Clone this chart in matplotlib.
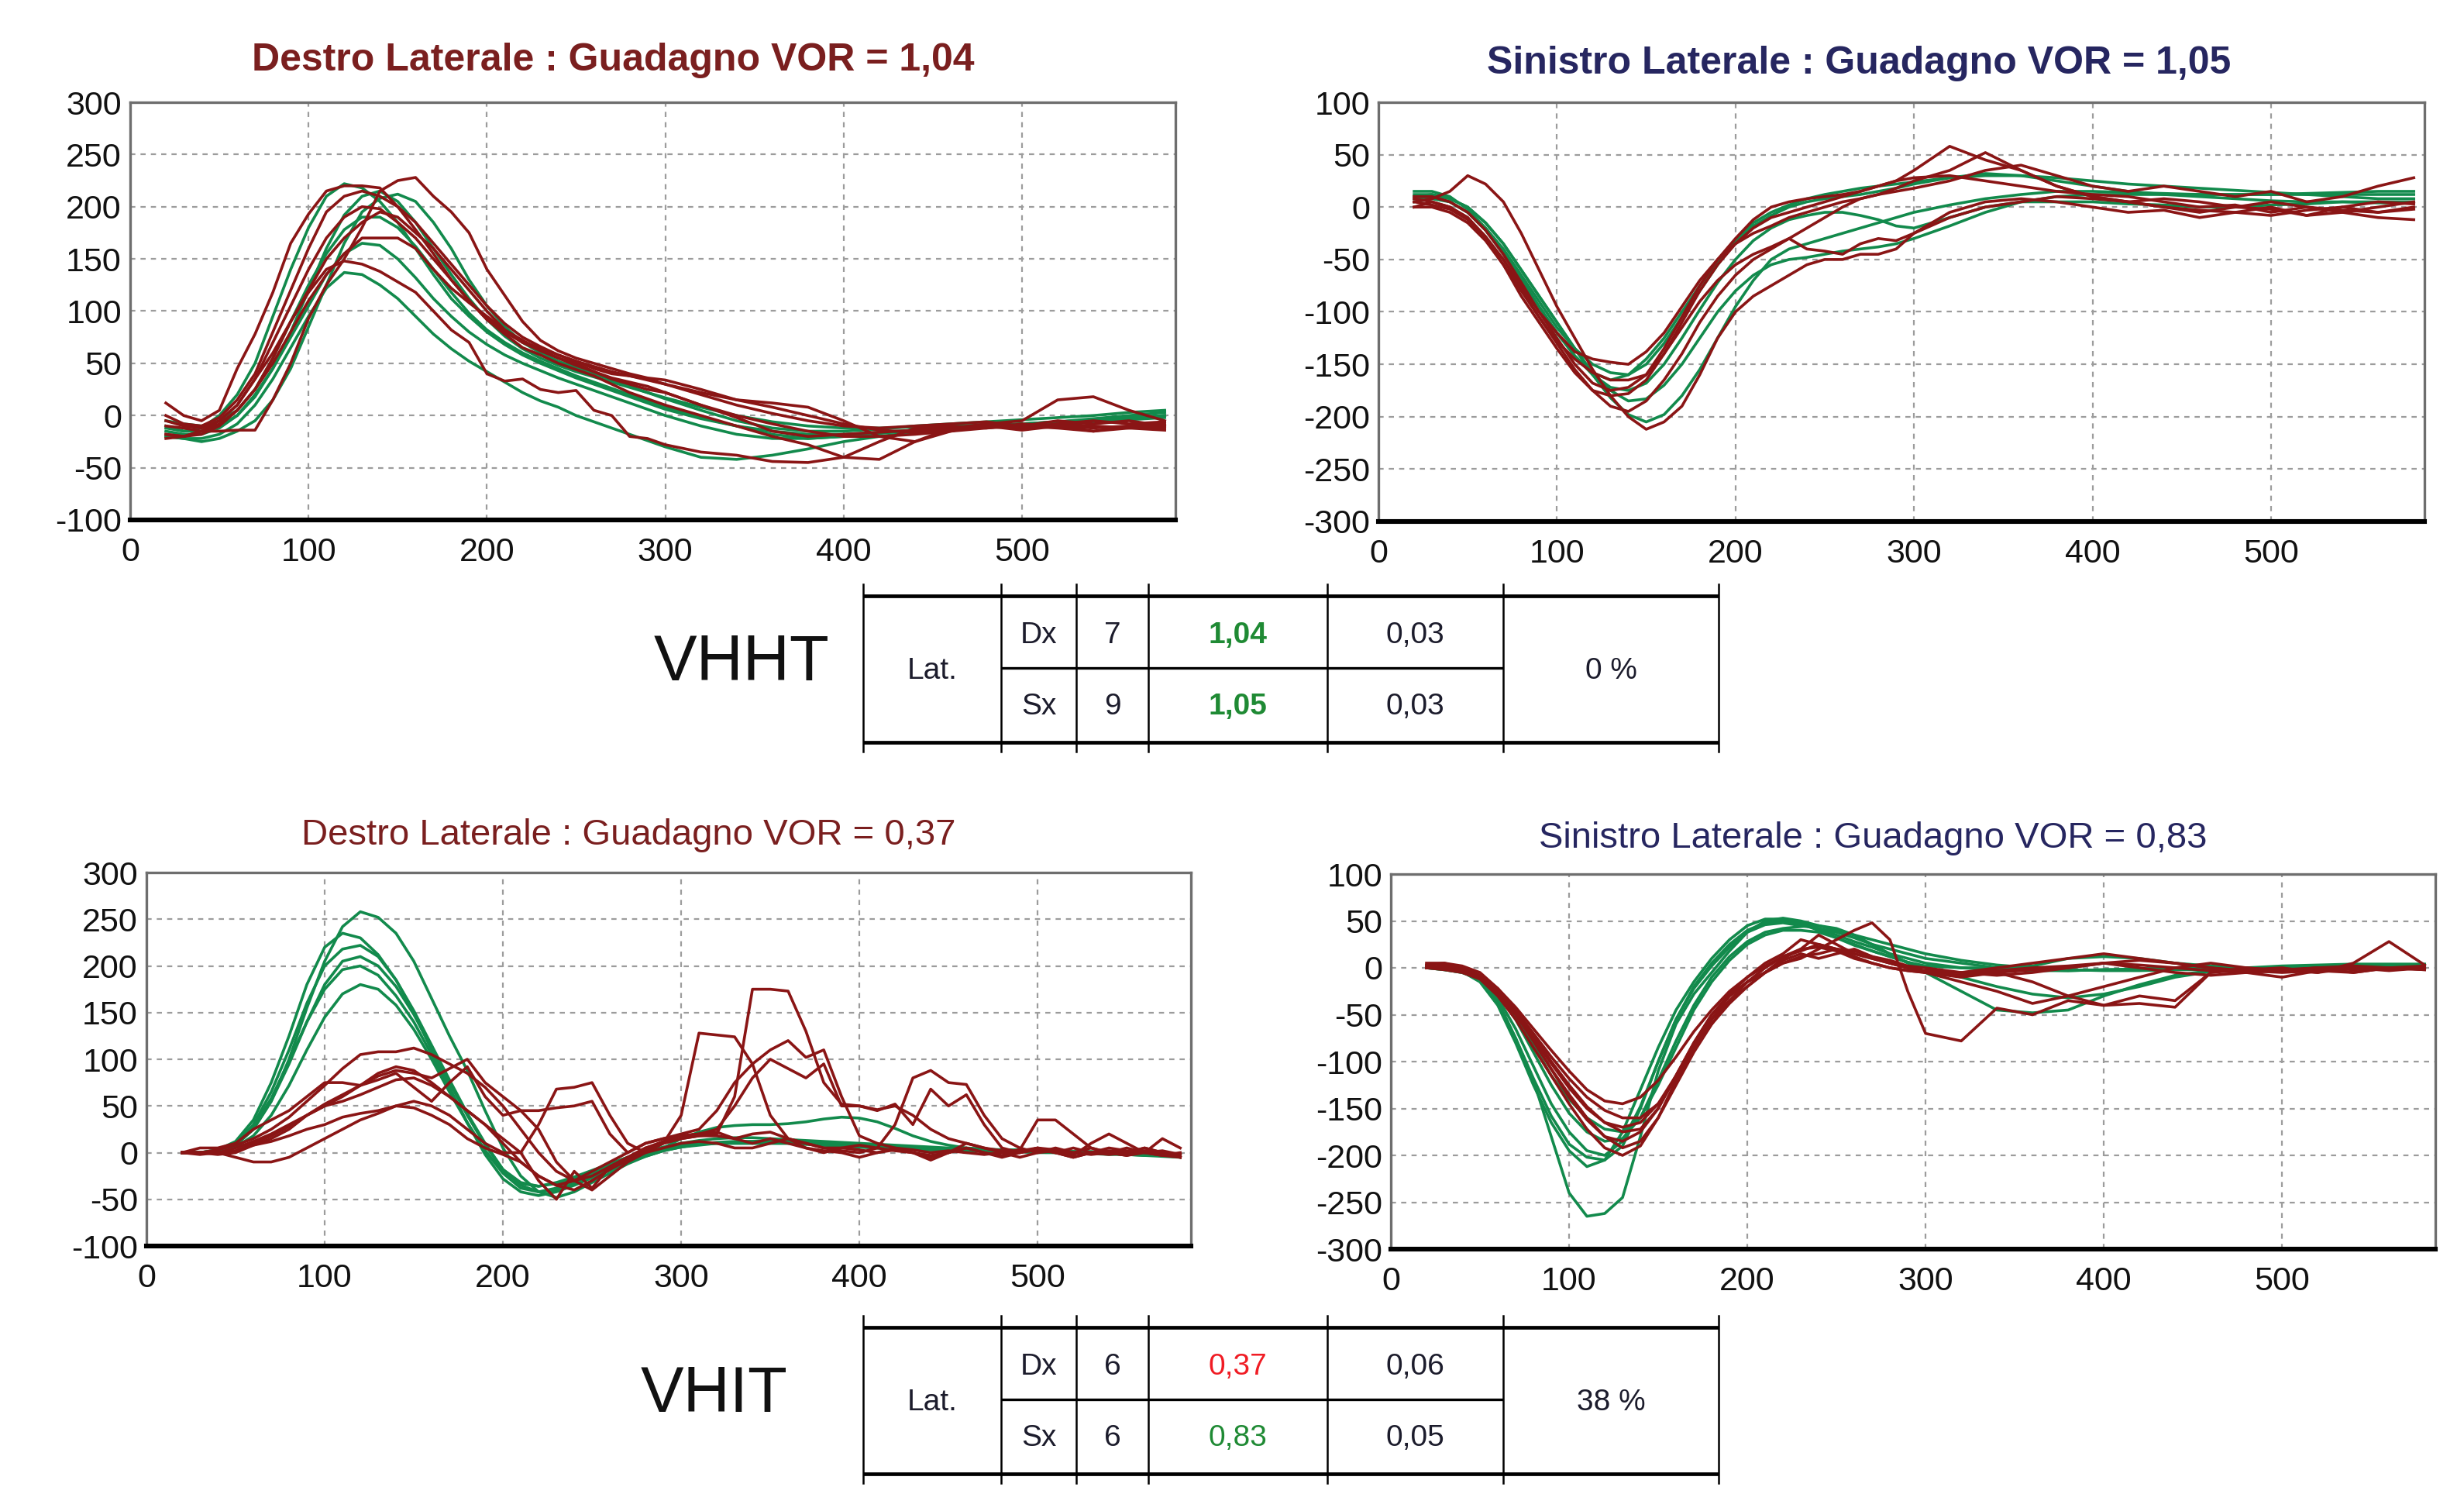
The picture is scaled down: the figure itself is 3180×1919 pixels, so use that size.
import matplotlib
matplotlib.use("Agg")
import matplotlib.pyplot as plt

plt.rcParams["font.family"] = ["Liberation Sans", "DejaVu Sans"]
plt.rcParams["axes.unicode_minus"] = False

GREEN = "#128a4c"
RED = "#8a1515"
DX_COLOR = "#7a1f1f"
SX_COLOR = "#262660"

# time axis (ms)
t_main = [20, 30, 40, 50, 60, 70, 80, 90, 100, 110, 120, 130, 140, 150, 160, 170, 180, 190, 200, 210,
          220, 230, 240, 250, 260, 270, 280, 290, 300,
          320, 340, 360, 380, 400, 420, 440, 460, 480, 500, 520, 540, 560, 580]
t_fine = [20, 30, 40, 50, 60, 70, 80, 90, 100, 110, 120, 130, 140, 150, 160, 170, 180, 190, 200, 210,
          220, 230, 240, 250, 260, 270, 280, 290, 300, 310, 320, 330, 340, 350, 360, 370, 380, 390, 400, 410,
          420, 430, 440, 450, 460, 470, 480, 490, 500, 510, 520, 530, 540, 550, 560, 570, 580]

# VHHT destro - head (green) / eye (red)
vhht_dx_head = [
    [-10, -15, -12, 0, 20, 50, 95, 140, 180, 210, 222, 218, 205, 185, 160, 135, 112, 95, 80, 68,
     58, 50, 43, 36, 30, 24, 18, 12, 6, -3, -10, -15, -18, -18, -16, -14, -12, -10, -8, -6, -4, -2, 0],
    [-20, -22, -25, -22, -15, -5, 15, 45, 85, 125, 165, 195, 208, 212, 205, 185, 160, 130, 105, 85,
     70, 60, 52, 46, 40, 34, 28, 22, 16, 5, -5, -12, -15, -15, -13, -10, -8, -6, -4, -2, 0, 3, 5],
    [-5, -8, -10, -5, 5, 25, 55, 90, 125, 155, 178, 190, 190, 180, 162, 140, 118, 98, 82, 70,
     60, 52, 45, 38, 32, 26, 20, 14, 8, -2, -10, -18, -22, -20, -17, -14, -12, -10, -8, -6, -4, -2, 0],
    [-15, -18, -18, -12, 0, 20, 45, 75, 105, 135, 155, 165, 163, 150, 132, 112, 95, 80, 68, 58,
     50, 43, 36, 30, 24, 18, 12, 6, 0, -10, -18, -22, -22, -20, -17, -14, -12, -10, -9, -8, -6, -4, -2],
    [-20, -22, -22, -18, -8, 10, 35, 65, 95, 122, 137, 135, 125, 112, 95, 78, 64, 52, 42, 32,
     22, 14, 8, 0, -6, -12, -18, -24, -30, -40, -42, -38, -32, -25, -20, -16, -13, -11, -9, -7, -5, -3, 0],
    [-12, -15, -15, -10, 0, 18, 45, 80, 120, 160, 192, 210, 215, 205, 185, 160, 135, 112, 92, 76,
     64, 55, 48, 42, 37, 32, 27, 22, 17, 8, 0, -6, -10, -12, -12, -11, -10, -9, -8, -6, -3, 0, 3],
]
vhht_dx_eye = [
    [12, 0, -5, 5, 45, 78, 118, 165, 193, 215, 220, 220, 218, 200, 178, 155, 130, 110, 92, 80,
     70, 65, 58, 52, 45, 40, 38, 35, 30, 20, 10, 2, -5, -10, -12, -10, -8, -6, -10, -5, -8, -5, -10],
    [-18, -20, -15, -15, -14, -14, 15, 50, 93, 125, 150, 180, 215, 225, 228, 210, 195, 175, 140, 115,
     90, 72, 62, 55, 50, 45, 40, 36, 34, 25, 15, 8, 0, -8, -14, -16, -14, -10, -12, -8, -10, -12, -14],
    [-10, -12, -15, -8, 5, 25, 55, 90, 120, 150, 170, 185, 195, 190, 175, 160, 140, 120, 100, 82,
     70, 62, 55, 50, 42, 35, 30, 25, 22, 10, -2, -15, -20, -18, -16, -14, -12, -10, -14, -10, -15, -10, -12],
    [-18, -20, -18, -10, 5, 25, 50, 80, 110, 135, 155, 170, 170, 170, 160, 140, 122, 108, 95, 82,
     72, 63, 55, 48, 42, 36, 32, 28, 22, 10, 0, -8, -15, -20, -20, -18, -15, -12, -10, -12, -15, -12, -10],
    [-22, -20, -15, -5, 10, 35, 60, 90, 118, 140, 148, 145, 138, 128, 118, 100, 82, 70, 40, 33,
     35, 25, 22, 24, 5, 0, -20, -22, -28, -35, -38, -44, -45, -40, -25, -12, -10, -12, -8, -10, -12, -10, -8],
    [-5, -10, -12, -5, 10, 35, 70, 105, 140, 170, 190, 200, 198, 185, 170, 150, 130, 110, 92, 78,
     65, 58, 50, 44, 38, 30, 22, 16, 10, 0, -10, -20, -28, -40, -42, -25, -12, -8, -5, 15, 18, 5, -5],
    [0, -8, -10, -2, 15, 40, 80, 120, 160, 195, 210, 215, 210, 200, 185, 165, 145, 125, 105, 88,
     75, 66, 58, 52, 47, 42, 38, 34, 30, 22, 15, 12, 8, -5, -20, -25, -15, -8, -12, -8, -5, -8, -6],
]

# VHHT sinistro
vhht_sx_head = [
    [10, 12, 8, 0, -15, -35, -60, -85, -110, -135, -160, -182, -198, -205, -198, -180, -155, -125, -95, -70,
     -50, -40, -35, -30, -25, -20, -15, -10, -5, 2, 8, 12, 15, 15, 14, 13, 12, 12, 12, 13, 14, 15, 15],
    [5, 8, 5, -5, -20, -40, -65, -90, -115, -135, -150, -158, -160, -150, -130, -105, -80, -55, -32, -15,
     -5, 2, 8, 12, 15, 18, 20, 22, 24, 28, 30, 30, 28, 25, 22, 20, 18, 16, 14, 12, 10, 8, 8],
    [8, 10, 5, -5, -22, -45, -70, -95, -120, -142, -160, -172, -175, -168, -150, -125, -98, -72, -50, -32,
     -20, -12, -8, -5, -5, -8, -12, -18, -20, -10, 0, 5, 5, 5, 3, 2, 0, 0, 2, 3, 5, 5, 5],
    [12, 12, 8, 0, -15, -35, -60, -85, -110, -135, -158, -175, -185, -183, -170, -150, -125, -100, -80, -65,
     -55, -50, -48, -45, -42, -40, -38, -35, -30, -18, -5, 5, 10, 12, 12, 12, 12, 12, 12, 12, 12, 12, 12],
    [15, 15, 10, -2, -20, -42, -68, -95, -120, -142, -158, -165, -160, -145, -125, -100, -75, -52, -32, -18,
     -8, 0, 5, 8, 10, 12, 15, 18, 22, 28, 32, 30, 25, 20, 15, 12, 10, 8, 6, 5, 5, 4, 4],
]
vhht_sx_eye = [
    [5, 8, 15, 30, 22, 5, -25, -60, -95, -125, -155, -180, -200, -212, -205, -190, -160, -125, -100, -85,
     -75, -65, -55, -50, -50, -45, -45, -40, -25, -5, 5, 8, 5, 0, -5, -3, -10, -5, 0, -8, -5, -10, -12],
    [0, 5, 0, -10, -30, -55, -85, -110, -135, -158, -175, -180, -178, -165, -140, -110, -80, -55, -35, -20,
     -10, -5, 0, 5, 10, 15, 20, 25, 35, 58, 45, 35, 20, 10, 5, 8, 5, 0, 5, 0, -5, 0, 5],
    [5, 2, -2, -12, -30, -50, -75, -100, -120, -138, -145, -148, -150, -138, -120, -95, -70, -50, -35, -25,
     -18, -10, -5, 0, 5, 8, 12, 18, 25, 35, 52, 35, 20, 10, 5, 0, -5, 0, -2, -8, 0, 5, 3],
    [8, 5, 0, -10, -28, -50, -78, -105, -130, -155, -175, -190, -195, -185, -165, -140, -110, -85, -65, -50,
     -40, -30, -20, -10, 0, 8, 12, 15, 18, 25, 35, 40, 30, 20, 15, 20, 15, 10, 15, 5, 10, 20, 28],
    [0, 0, -5, -15, -32, -55, -80, -105, -128, -145, -158, -165, -165, -160, -140, -115, -90, -70, -55, -45,
     -38, -30, -40, -42, -45, -35, -30, -32, -25, -10, 0, 5, 10, 8, 5, 0, -3, -5, -8, -3, 0, -5, 0],
    [10, 10, 5, -5, -22, -45, -72, -100, -125, -150, -168, -175, -172, -160, -135, -105, -75, -50, -30, -12,
     0, 5, 8, 10, 12, 15, 20, 25, 28, 30, 25, 20, 15, 12, 10, 5, 0, 2, -5, 0, -3, -5, -2],
]

# VHIT destro (finer time base)
vhit_dx_head = [
    [0, 0, 2, 8, 25, 55, 100, 155, 205, 242, 258, 252, 235, 205, 165, 125, 88, 45, 5, -25,
     -42, -48, -42, -32, -22, -12, -4, 2, 6, 8, 10, 10, 10, 10, 10, 9, 8, 7, 6, 5,
     4, 4, 3, 3, 2, 2, 2, 1, 1, 0, 0, 0, -1, -2, -3, -4, -5],
    [0, 0, 3, 12, 35, 75, 125, 180, 220, 235, 230, 212, 185, 150, 110, 70, 32, -2, -28, -42,
     -46, -42, -35, -27, -19, -11, -4, 2, 6, 9, 11, 12, 12, 12, 11, 10, 9, 8, 7, 6,
     5, 4, 3, 3, 2, 2, 1, 1, 0, 0, 0, -1, -2, -2, -3, -3, -4],
    [0, 0, 2, 10, 30, 65, 110, 160, 200, 218, 222, 210, 185, 152, 115, 78, 42, 10, -18, -35,
     -42, -40, -33, -25, -17, -9, -2, 5, 15, 22, 27, 29, 30, 30, 31, 33, 36, 38, 37, 33,
     26, 18, 12, 8, 5, 4, 3, 3, 2, 2, 1, 1, 0, 0, -1, -2, -3],
    [0, 0, 2, 8, 25, 55, 95, 140, 180, 205, 210, 200, 178, 148, 112, 75, 40, 8, -18, -32,
     -36, -32, -26, -19, -12, -5, 1, 6, 10, 13, 15, 16, 16, 15, 14, 13, 12, 11, 10, 9,
     8, 7, 6, 5, 4, 3, 3, 2, 2, 1, 1, 0, 0, -1, -1, -2, -2],
    [0, 0, 3, 10, 28, 58, 98, 140, 175, 196, 200, 190, 168, 140, 105, 68, 32, 2, -22, -38,
     -42, -38, -30, -22, -14, -6, 0, 5, 8, 10, 10, 10, 10, 10, 10, 9, 8, 7, 6, 5,
     5, 4, 4, 3, 3, 2, 2, 2, 1, 1, 1, 0, 0, 0, -1, -1, -2],
    [0, 0, 2, 6, 18, 40, 72, 110, 145, 170, 180, 175, 158, 132, 100, 65, 32, 2, -20, -33,
     -36, -33, -27, -20, -12, -5, 0, 4, 7, 9, 10, 11, 12, 13, 12, 11, 10, 9, 8, 7,
     6, 5, 5, 4, 4, 3, 3, 2, 2, 2, 1, 1, 0, 0, -1, -2, -3],
]
vhit_dx_eye = [
    [0, 0, 3, 8, 15, 25, 38, 55, 72, 90, 105, 108, 108, 112, 105, 95, 85, 70, 50, 25,
     0, -20, -30, -25, -15, -5, 5, 10, 15, 18, 20, 60, 175, 175, 173, 130, 75, 52, 50, 46,
     50, 40, 25, 15, 10, 5, 2, 0, 5, 3, 0, 5, 0, -3, 2, 0, -5],
    [0, -2, 0, 5, 12, 20, 30, 40, 50, 60, 72, 82, 88, 85, 80, 90, 100, 75, 60, 45,
     25, -10, -30, -40, -25, -10, 0, 10, 40, 128, 126, 124, 95, 40, 15, 5, 0, 5, 8, 5,
     2, 0, -5, 0, 5, 0, -3, 2, 5, 0, -5, 0, 2, 0, 5, 0, -3],
    [0, 0, -2, 0, 8, 15, 25, 40, 50, 55, 62, 70, 78, 80, 72, 60, 45, 30, 10, -10,
     -25, -35, -30, -20, -10, 0, 10, 15, 20, 25, 45, 75, 95, 110, 120, 102, 110, 60, 18, 10,
     5, 0, -3, 0, 5, 0, -5, 0, 3, 0, -5, 0, 5, 2, 0, -3, -5],
    [0, 0, 0, -5, -10, -10, -5, 5, 15, 25, 35, 42, 50, 55, 50, 40, 25, 10, 0, 0,
     30, 68, 70, 75, 40, 10, 0, 5, 10, 12, 10, 5, 5, 10, 15, 10, 5, 2, 0, 5,
     30, 80, 88, 75, 73, 40, 15, 5, 0, 5, 0, -2, 0, 5, 0, -3, 0],
    [0, 5, 5, 10, 25, 35, 45, 60, 75, 75, 72, 78, 85, 70, 55, 75, 92, 60, 40, 45,
     45, 48, 50, 55, 20, 0, 10, 15, 18, 20, 25, 50, 80, 100, 90, 80, 95, 50, 50, 45,
     52, 30, 68, 50, 62, 30, 5, 0, 5, 0, 5, 0, -2, 0, 5, 0, -5],
    [0, 0, 0, 2, 8, 12, 18, 25, 30, 38, 42, 45, 50, 48, 40, 30, 15, 5, -2, -10,
     -25, -35, -40, -30, -18, -8, 2, 10, 15, 18, 18, 15, 20, 22, 15, 10, 5, 5, 3, 0,
     5, 3, 0, 2, 0, -2, 0, 3, 35, 35, 20, 5, 0, -3, 0, 2, -2],
    [0, 0, 0, 2, 10, 18, 28, 40, 52, 62, 72, 85, 92, 88, 75, 60, 45, 30, 15, 0,
     -30, -50, -20, -38, -15, -5, 5, 12, 18, 20, 22, 15, 10, 15, 10, 5, 2, 0, -5, 0,
     3, 0, -8, 0, 10, 5, 0, -5, 0, 2, -3, 10, 20, 10, 0, 15, 5],
]

# VHIT sinistro
vhit_sx_head = [
    [0, -2, -5, -12, -35, -75, -120, -180, -240, -265, -262, -245, -180, -110, -60, -28, -5, 18, 38, 50,
     53, 50, 45, 40, 35, 30, 25, 20, 15, 8, 3, 0, -2, -3, -3, -2, -2, -1, 0, 0, 1, 2, 2],
    [0, 0, -4, -15, -40, -80, -125, -165, -195, -212, -205, -175, -130, -85, -45, -15, 10, 30, 45, 52,
     52, 48, 42, 35, 28, 22, 15, 10, 5, 0, -2, -3, -3, -2, -2, -1, 0, 0, 0, 0, 0, 0, 0],
    [2, 0, -3, -12, -32, -65, -105, -145, -175, -195, -200, -185, -148, -100, -55, -22, 2, 22, 38, 46,
     48, 45, 42, 38, 32, 25, 20, 15, 10, 5, 0, -2, -3, -2, -1, 0, 0, 0, 0, 1, 2, 2, 2],
    [0, 0, -2, -10, -28, -55, -90, -125, -155, -175, -185, -182, -160, -120, -78, -40, -10, 12, 28, 38,
     42, 44, 45, 42, 35, 25, 15, 5, -5, -25, -45, -48, -45, -30, -18, -8, -3, 0, 0, 0, 0, 0, 0],
    [0, -2, -5, -12, -28, -52, -82, -115, -140, -160, -172, -175, -160, -125, -85, -45, -15, 8, 25, 35,
     40, 40, 38, 32, 25, 18, 12, 6, 0, -10, -20, -28, -32, -28, -20, -10, -4, 0, 2, 3, 4, 4, 4],
    [0, -1, -4, -14, -38, -75, -118, -158, -188, -202, -205, -190, -150, -100, -55, -20, 5, 25, 40, 48,
     50, 47, 40, 32, 24, 18, 12, 6, 2, 0, 0, 2, 10, 12, 10, 5, 2, 0, -2, -2, 0, 2, 3],
]
vhit_sx_eye = [
    [0, 2, 0, -8, -22, -42, -65, -88, -110, -130, -142, -145, -138, -120, -95, -68, -45, -25, -10, 2,
     12, 18, 25, 20, 12, 5, 0, -3, -5, -5, -3, 0, 2, 5, 3, 0, -3, -5, -3, 0, -2, 0, 2],
    [5, 5, 0, -10, -28, -50, -78, -108, -135, -160, -180, -192, -185, -160, -125, -90, -60, -35, -15, 0,
     12, 20, 22, 18, 10, 5, 0, -3, -5, -8, -5, -2, 0, 5, 0, -5, -8, -5, -10, -3, -5, 0, -2],
    [3, 5, 2, -5, -22, -45, -72, -100, -125, -148, -165, -175, -172, -150, -115, -80, -50, -30, -15, -5,
     5, 10, 20, 30, 40, 48, 30, -25, -70, -78, -43, -50, -35, -40, -38, -42, -5, 0, -3, -5, 0, -3, 0],
    [0, 0, -3, -10, -25, -48, -75, -102, -128, -150, -165, -170, -165, -145, -115, -82, -55, -35, -20, -5,
     10, 20, 35, 25, 15, 10, 5, 0, -3, -5, -8, -5, 0, 5, 8, 5, 0, -3, -5, -3, 0, -2, 0],
    [0, -2, -5, -12, -30, -55, -85, -115, -145, -172, -192, -200, -190, -160, -120, -85, -55, -30, -15, -5,
     5, 12, 15, 20, 18, 12, 5, 0, -5, -15, -25, -38, -30, -40, -30, -35, -5, -2, 0, -5, 5, 28, 3],
    [2, 0, -3, -10, -25, -45, -70, -95, -118, -138, -152, -160, -160, -145, -118, -88, -60, -38, -20, -5,
     8, 15, 10, 15, 20, 12, 8, 2, 0, -5, 0, 5, 10, 15, 10, 5, 0, -5, -2, 0, 2, 0, -2],
    [0, 3, 0, -8, -25, -48, -78, -108, -138, -162, -180, -185, -175, -150, -115, -80, -50, -28, -10, 5,
     15, 30, 25, 20, 15, 10, 5, 0, -5, -10, -5, -15, -30, -20, -10, 0, 5, 0, -3, 0, -5, 0, 0],
]

titles = [
    "Destro Laterale : Guadagno VOR = 1,04",
    "Sinistro Laterale : Guadagno VOR = 1,05",
    "Destro Laterale : Guadagno VOR = 0,37",
    "Sinistro Laterale : Guadagno VOR = 0,83",
]

vhht_rows = [["Dx", "7", "1,04", "0,03"], ["Sx", "9", "1,05", "0,03"]]
vhht_asym = "0 %"
vhit_rows = [["Dx", "6", "0,37", "0,06"], ["Sx", "6", "0,83", "0,05"]]
vhit_asym = "38 %"

W, H = 3180, 1919
TABLE_FS = 14


def draw_panel(ax, t, head, eye, ylim):
    for y in head:
        ax.plot(t, y, color=GREEN, lw=1.3)
    for y in eye:
        ax.plot(t, y, color=RED, lw=1.3)
    ax.set_xlim(0, 586)
    ax.set_ylim(ylim[0], ylim[1])
    ax.set_xticks([0, 100, 200, 300, 400, 500])
    ax.set_yticks(list(range(ylim[0], ylim[1] + 1, 50)))
    ax.grid(True, color="#9c9c9c", linestyle=(0, (3, 3)), lw=0.8)
    ax.set_axisbelow(True)
    ax.tick_params(axis="both", length=0, labelsize=15.5, colors="#111111")
    ax.tick_params(axis="x", pad=8)
    ax.tick_params(axis="y", pad=4)
    for s in ("top", "right", "left"):
        ax.spines[s].set_color("#6e6e6e")
        ax.spines[s].set_linewidth(1.2)
    ax.spines["bottom"].set_color("black")
    ax.spines["bottom"].set_linewidth(2.2)


def fig_rect(left, top, right, bottom):
    return [left / W, 1 - bottom / H, (right - left) / W, (bottom - top) / H]


def draw_table(ax, top, label, label_x, rows, asym, gain_colors, gain_weight):
    xs = [1114, 1292, 1389, 1482, 1713, 1940, 2218]
    h = 189
    mid = top + 93
    ax.plot([xs[0], xs[-1]], [top, top], color="black", lw=1.7, solid_capstyle="butt")
    ax.plot([xs[0], xs[-1]], [top + h, top + h], color="black", lw=1.7, solid_capstyle="butt")
    ax.plot([xs[1], xs[5]], [mid, mid], color="black", lw=1.2, solid_capstyle="butt")
    for x in xs:
        ax.plot([x, x], [top - 15, top + h + 12], color="black", lw=0.9)

    ax.text(label_x, top + 87, label, ha="center", va="center", fontsize=30, color="#111111")
    ax.text((xs[0] + xs[1]) / 2, top + 97, "Lat.", ha="center", va="center", fontsize=TABLE_FS, color="#1c1c2c")
    ax.text((xs[5] + xs[6]) / 2, top + 97, asym, ha="center", va="center", fontsize=TABLE_FS, color="#1c1c2c")
    row_y = [top + 51, top + 143]
    for i, row in enumerate(rows):
        y = row_y[i]
        ax.text((xs[1] + xs[2]) / 2, y, row[0], ha="center", va="center", fontsize=TABLE_FS, color="#1c1c2c")
        ax.text((xs[2] + xs[3]) / 2, y, row[1], ha="center", va="center", fontsize=TABLE_FS, color="#1c1c2c")
        ax.text((xs[3] + xs[4]) / 2, y, row[2], ha="center", va="center", fontsize=TABLE_FS,
                color=gain_colors[i], fontweight=gain_weight)
        ax.text((xs[4] + xs[5]) / 2, y, row[3], ha="center", va="center", fontsize=TABLE_FS, color="#1c1c2c")


fig = plt.figure(figsize=(15.9, 9.595), dpi=200)
fig.patch.set_facecolor("white")

ax1 = fig.add_axes(fig_rect(168, 132, 1517, 671))
draw_panel(ax1, t_main, vhht_dx_head, vhht_dx_eye, (-100, 300))
ax2 = fig.add_axes(fig_rect(1779, 132, 3129, 673))
draw_panel(ax2, t_main, vhht_sx_head, vhht_sx_eye, (-300, 100))
ax3 = fig.add_axes(fig_rect(189, 1126, 1537, 1608))
draw_panel(ax3, t_fine, vhit_dx_head, vhit_dx_eye, (-100, 300))
ax4 = fig.add_axes(fig_rect(1795, 1128, 3143, 1612))
draw_panel(ax4, t_main, vhit_sx_head, vhit_sx_eye, (-300, 100))

fig.text(791 / W, 1 - 78 / H, titles[0], ha="center", va="center", fontsize=18,
         fontweight="bold", color=DX_COLOR)
fig.text(2399 / W, 1 - 82 / H, titles[1], ha="center", va="center", fontsize=18,
         fontweight="bold", color=SX_COLOR)
fig.text(811 / W, 1 - 1078 / H, titles[2], ha="center", va="center", fontsize=17, color=DX_COLOR)
fig.text(2417 / W, 1 - 1082 / H, titles[3], ha="center", va="center", fontsize=17, color=SX_COLOR)

over = fig.add_axes([0, 0, 1, 1])
over.set_xlim(0, W)
over.set_ylim(H, 0)
over.axis("off")
over.patch.set_alpha(0)

draw_table(over, 769, "VHHT", 957, vhht_rows, vhht_asym, ["#1f8a34", "#1f8a34"], "bold")
draw_table(over, 1713, "VHIT", 922, vhit_rows, vhit_asym, ["#f01c24", "#1f8a34"], "normal")

fig.savefig("out.png", dpi=200, facecolor="white")
